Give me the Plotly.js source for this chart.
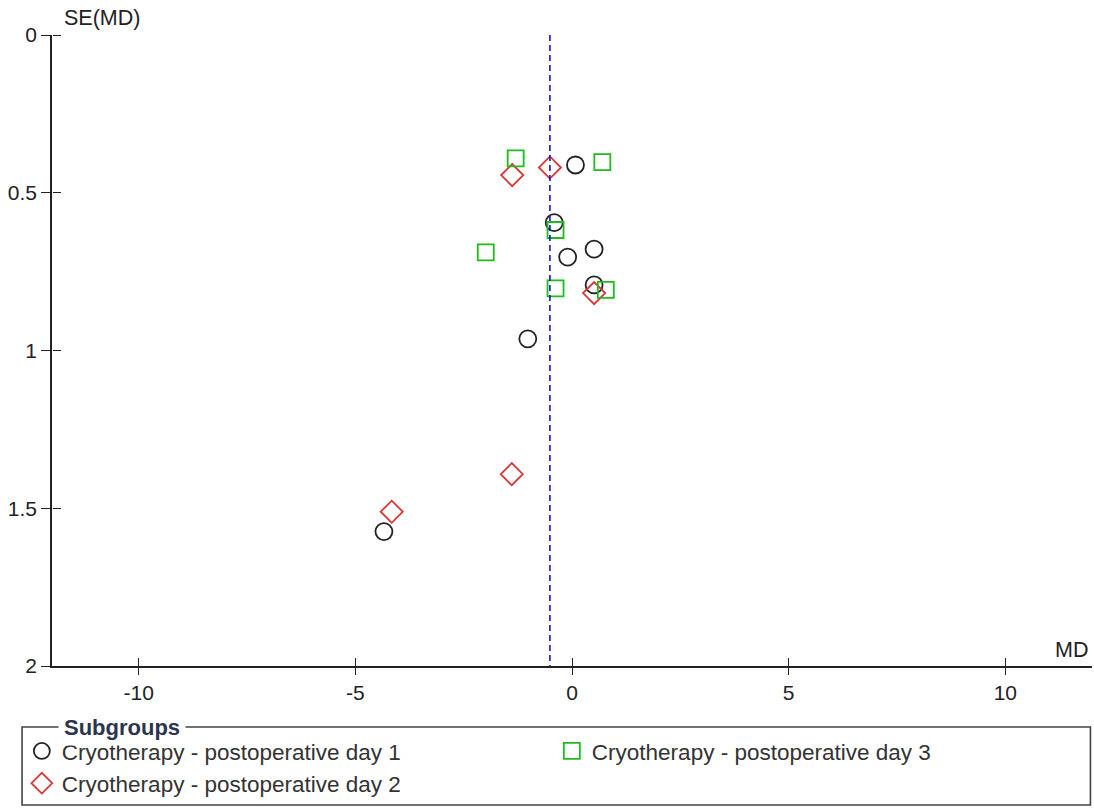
<!DOCTYPE html>
<html>
<head>
<meta charset="utf-8">
<script src="https://cdn.plot.ly/plotly-3.0.1.min.js"></script>
<style>html,body{margin:0;padding:0;background:#fff;}#chart{width:1094px;height:808px;}</style>
</head>
<body>
<div id="chart"></div>
<script>
// ---- data ----
const day1Name = "Cryotherapy - postoperative day 1";
const day2Name = "Cryotherapy - postoperative day 2";
const day3Name = "Cryotherapy - postoperative day 3";

const day1MD = [0.08, -0.41, 0.51, -0.10, 0.51, -1.02, -4.34];
const day1SE = [0.412, 0.595, 0.679, 0.704, 0.792, 0.963, 1.574];

const day2MD = [-0.51, -1.38, 0.51, -1.39, -4.16];
const day2SE = [0.420, 0.444, 0.818, 1.392, 1.511];

const day3MD = [-1.30, 0.70, -0.38, -1.99, -0.38, 0.78];
const day3SE = [0.391, 0.403, 0.618, 0.689, 0.803, 0.808];

const pooledMD = -0.51;
const seRange = [0, 2];
const mdRange = [-12, 12];

const xTickVals = [-10, -5, 0, 5, 10];
const xTickText = ["-10", "-5", "0", "5", "10"];
const yTickVals = [0, 0.5, 1, 1.5, 2];
const yTickText = ["0", "0.5", "1", "1.5", "2"];

const FONT = "Liberation Sans, Arial, sans-serif";
const TXT = "#222";

// geometry: the main plot uses the lower part of the paper; a twin subplot spans the
// whole paper (a few px taller) and draws the inner half of every tick mark
const PAD_TOP = 6, PLOT_H = 631;
const mainTop = PLOT_H / (PLOT_H + PAD_TOP);
const seSpan = seRange[1] - seRange[0];
const twinTop = seRange[0] - seSpan * PAD_TOP / PLOT_H;

const traces = [
  {
    type: "scatter", mode: "markers", name: day1Name, legendrank: 1,
    x: day1MD, y: day1SE,
    marker: {symbol: "circle-open", size: 17, color: "#222", line: {width: 1.8, color: "#222"}},
    hoverinfo: "x+y"
  },
  {
    type: "scatter", mode: "markers", name: day2Name, legendrank: 3,
    x: day2MD, y: day2SE,
    marker: {symbol: "diamond-open", size: 17, color: "#d93535", line: {width: 1.8, color: "#d93535"}},
    hoverinfo: "x+y"
  },
  {
    type: "scatter", mode: "markers", name: day3Name, legendrank: 2,
    x: day3MD, y: day3SE,
    marker: {symbol: "square-open", size: 16, color: "#1fbb1f", line: {width: 1.8, color: "#1fbb1f"}},
    hoverinfo: "x+y"
  },
  {
    type: "scatter", mode: "lines", showlegend: false, hoverinfo: "skip",
    x: [pooledMD, pooledMD], y: seRange,
    line: {color: "#1515c8", width: 1.6, dash: "6px,4px"}
  },
  {
    // invisible carrier for the twin subplot
    type: "scatter", mode: "markers", showlegend: false, hoverinfo: "skip",
    x: [pooledMD], y: [seRange[1]], xaxis: "x2", yaxis: "y2",
    marker: {opacity: 0, size: 1}
  }
];

const axisCommon = {
  showgrid: false, zeroline: false, showline: true,
  linecolor: "#222", linewidth: 1.5,
  tickcolor: "#222", tickwidth: 1.3, ticklen: 8,
  tickfont: {family: FONT, size: 21, color: TXT},
  fixedrange: true
};

const innerTicks = {
  anchor: "free", position: 0,
  showgrid: false, zeroline: false, showline: false, fixedrange: true,
  showticklabels: false, ticks: "inside", ticklen: 8, tickwidth: 1.3, tickcolor: "#222"
};

const H = PLOT_H + PAD_TOP; // paper height in px (plot area)
const py = p => (666 - p) / H; // pixel row -> paper y

const layout = {
  width: 1094, height: 808,
  margin: {l: 52, r: 2, t: 35 - PAD_TOP, b: 142},
  paper_bgcolor: "#fff", plot_bgcolor: "rgba(0,0,0,0)",
  font: {family: FONT, size: 21, color: TXT},
  showlegend: true,
  xaxis: Object.assign({}, axisCommon, {
    domain: [0, 1], anchor: "y",
    range: mdRange, tickmode: "array", tickvals: xTickVals, ticktext: xTickText,
    ticks: "outside", ticklen: 7
  }),
  yaxis: Object.assign({}, axisCommon, {
    domain: [0, mainTop], anchor: "x",
    range: [seRange[1], seRange[0]], tickmode: "array", tickvals: yTickVals, ticktext: yTickText,
    ticks: "outside", ticklen: 9
  }),
  xaxis2: Object.assign({}, innerTicks, {
    domain: [0, 1], side: "bottom", range: mdRange,
    tickmode: "array", tickvals: xTickVals, ticktext: xTickText
  }),
  yaxis2: Object.assign({}, innerTicks, {
    domain: [0, 1], side: "left", range: [seRange[1], twinTop],
    tickmode: "array", tickvals: yTickVals, ticktext: yTickText
  }),
  legend: {
    orientation: "h", x: -0.029, xanchor: "left", y: py(729.8), yanchor: "top",
    entrywidth: 485, entrywidthmode: "pixels",
    font: {family: FONT, size: 22.5, color: "#333"},
    bgcolor: "rgba(0,0,0,0)", borderwidth: 0, itemclick: false, itemdoubleclick: false
  },
  shapes: [
    {type: "rect", xref: "paper", yref: "paper",
     x0: -0.0288, x1: 0.9985, y0: py(805), y1: py(727),
     line: {color: "#444", width: 1.6}, fillcolor: "rgba(0,0,0,0)", layer: "below"}
  ],
  annotations: [
    {text: "SE(MD)", xref: "paper", yref: "paper", x: 0.0096, y: py(18),
     xanchor: "left", yanchor: "middle", showarrow: false,
     font: {family: FONT, size: 21.5, color: TXT}},
    {text: "MD", xref: "paper", yref: "paper", x: 0.998, y: py(650),
     xanchor: "right", yanchor: "middle", showarrow: false,
     font: {family: FONT, size: 21.5, color: TXT}},
    {text: "<b>Subgroups</b>", xref: "paper", yref: "paper", x: 0.0058, y: py(727),
     xanchor: "left", yanchor: "middle", showarrow: false,
     bgcolor: "#fff", borderpad: 5,
     font: {family: FONT, size: 22, color: "#2b3550"}}
  ]
};

Plotly.newPlot("chart", traces, layout, {displayModeBar: false});
</script>
</body>
</html>
